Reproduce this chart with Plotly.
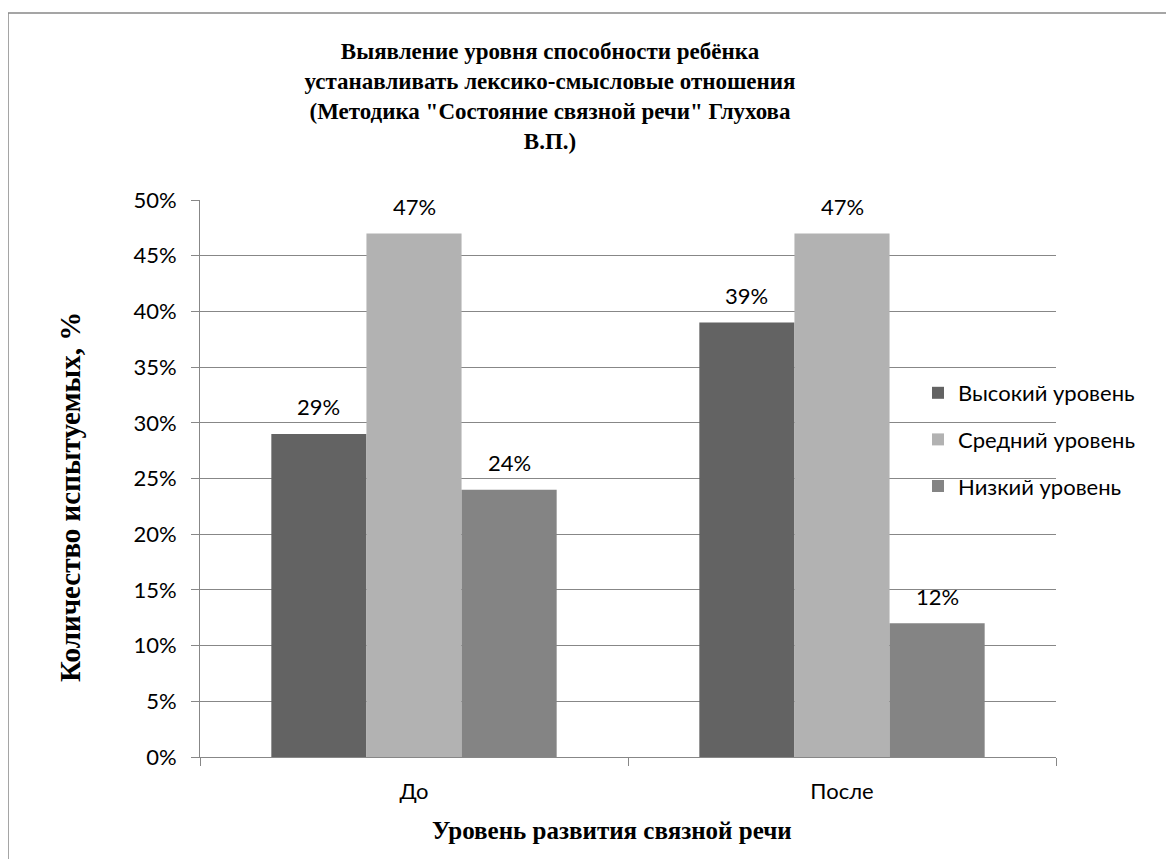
import plotly.graph_objects as go

categories = ["До", "После"]
series_names = ["Высокий уровень", "Средний уровень", "Низкий уровень"]
high_values = [29, 39]
mid_values = [47, 47]
low_values = [24, 12]
series_values = [high_values, mid_values, low_values]
series_colors = ["#636363", "#b2b2b2", "#848484"]
y_ticks = [0, 5, 10, 15, 20, 25, 30, 35, 40, 45, 50]
y_tick_labels = ["0%", "5%", "10%", "15%", "20%", "25%", "30%", "35%", "40%", "45%", "50%"]

title_text = ("Выявление уровня способности ребёнка<br>"
              "устанавливать лексико-смысловые отношения<br>"
              "(Методика \"Состояние связной речи\" Глухова<br>"
              "В.П.)")
x_title = "Уровень развития связной речи"
y_title = "Количество испытуемых, %"

SERIF = "Liberation Serif, Times New Roman, Tinos, serif"
SANS = "Lato, Carlito, Calibri, sans-serif"

# page body adds an 8px offset
OFF = 8
W, H = 1174 - OFF, 859 - OFF
ml, mt = 200 - OFF, 200 - OFF
pw, ph = 856, 557
mr, mb = W - ml - pw, H - mt - ph

BARGAP = 1 / 3

fig = go.Figure()
n_series = len(series_names)
bar_px = pw / len(categories) * (1 - BARGAP) / n_series
for i, (name, vals, col) in enumerate(zip(series_names, series_values, series_colors)):
    fig.add_trace(go.Bar(
        x=categories, y=vals, name=name,
        marker=dict(color=col, line=dict(width=0)),
        legendgroup=f"g{i}",
    ))
    for c, v in zip(categories, vals):
        fig.add_annotation(
            x=c, y=v, xref="x", yref="y", text=f"{v}%", showarrow=False,
            xshift=(i - (n_series - 1) / 2) * bar_px, yshift=27,
            yanchor="middle", xanchor="center",
            font=dict(family=SANS, size=22, color="#000000"),
        )

# axis titles
fig.add_annotation(
    x=(612 - 200) / pw, y=(757 - 830) / ph, xref="paper", yref="paper",
    text=x_title, showarrow=False, xanchor="center", yanchor="middle",
    font=dict(family=SERIF, size=25, color="#000000", weight="bold"),
)
fig.add_annotation(
    x=(70 - 200) / pw, y=(757 - 497) / ph, xref="paper", yref="paper",
    text=y_title, showarrow=False, xanchor="center", yanchor="middle",
    textangle=-90,
    font=dict(family=SERIF, size=29, color="#000000", weight="bold"),
)

fig.update_layout(
    width=W, height=H,
    margin=dict(l=ml, r=mr, t=mt, b=mb, autoexpand=False),
    paper_bgcolor="white", plot_bgcolor="white",
    barmode="group", bargap=BARGAP, bargroupgap=0,
    font=dict(family=SANS, size=22, color="#000000"),
    title=dict(
        text=title_text,
        font=dict(family=SERIF, size=23, color="#000000", weight="bold"),
        x=(550 - OFF) / W, xref="container", xanchor="center",
        y=1 - (59 - OFF) / H, yref="container", yanchor="top",
    ),
    showlegend=True,
    legend=dict(
        x=(918 - 200) / pw, xref="paper", xanchor="left",
        y=(757 - 372) / ph, yanchor="top",
        bgcolor="rgba(0,0,0,0)",
        font=dict(family=SANS, size=22, color="#000000"),
        traceorder="grouped", tracegroupgap=15,
        itemwidth=30,
    ),
)

fig.update_yaxes(
    range=[0, 50], tickvals=y_ticks, ticktext=y_tick_labels,
    showgrid=True, gridcolor="#878787", gridwidth=1,
    showline=True, linecolor="#878787", linewidth=1,
    ticks="outside", ticklen=8, tickcolor="#878787",
    ticklabelstandoff=10,
    zeroline=False,
    tickfont=dict(family=SANS, size=22),
)
fig.update_xaxes(
    showline=True, linecolor="#878787", linewidth=1,
    ticks="outside", ticklen=8, tickcolor="#878787",
    tickson="boundaries",
    ticklabelstandoff=15,
    tickfont=dict(family=SANS, size=22),
)

# outer chart border
fig.add_shape(type="rect", xref="paper", yref="paper",
              x0=(8 - 200) / pw, x1=(1190 - 200) / pw,
              y0=(757 - 880) / ph, y1=(757 - 13) / ph,
              line=dict(color="#888888", width=1.5), fillcolor="rgba(0,0,0,0)",
              layer="below")

fig.write_html("out.html")
